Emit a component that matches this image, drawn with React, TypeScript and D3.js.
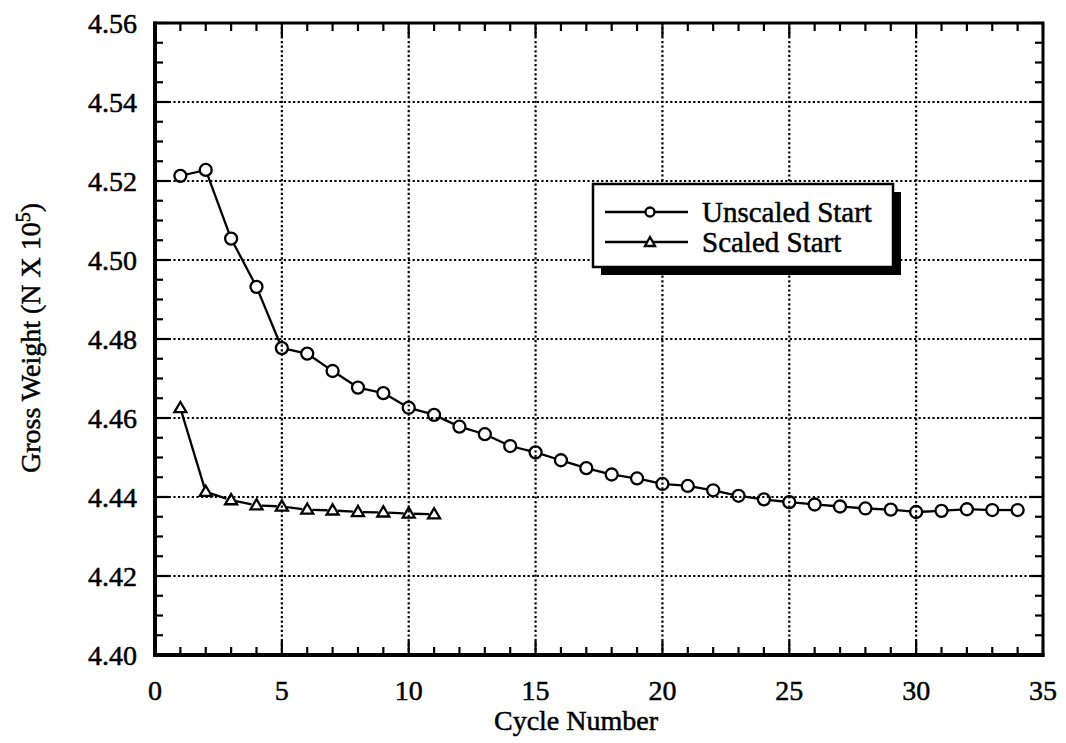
import { scaleLinear, range } from 'd3'

const width = 1066
const height = 743
const margin = { top: 23, right: 23, bottom: 88, left: 155 }

const cycles = range(1, 35)
const unscaled = [
  4.5213, 4.5228, 4.5054, 4.4932, 4.4777, 4.4763, 4.4719, 4.4677, 4.4663, 4.4626,
  4.4608, 4.4578, 4.4559, 4.4529, 4.4513, 4.4493, 4.4473, 4.4457, 4.4447, 4.4433,
  4.4428, 4.4417, 4.4403, 4.4394, 4.4387, 4.4381, 4.4376, 4.4371, 4.4368, 4.4362,
  4.4365, 4.4369, 4.4367, 4.4367,
]
const scaledCycles = range(1, 12)
const scaled = [
  4.4625, 4.4413, 4.4392, 4.4379, 4.4376, 4.4368, 4.4366, 4.4362, 4.4361, 4.4358, 4.4356,
]
const xTicks = [0, 5, 10, 15, 20, 25, 30, 35]
const yTicks = [4.4, 4.42, 4.44, 4.46, 4.48, 4.5, 4.52, 4.54, 4.56]
const seriesNames = ['Unscaled Start', 'Scaled Start']

const font = '"Liberation Serif", "Times New Roman", serif'

// connecting segments stop at the marker edge, markers are hollow
function gapSegments(pts, gap) {
  const segs = []
  for (let i = 1; i < pts.length; i++) {
    const [x1, y1] = pts[i - 1]
    const [x2, y2] = pts[i]
    const len = Math.hypot(x2 - x1, y2 - y1)
    if (len <= gap * 2) continue
    const ux = (x2 - x1) / len
    const uy = (y2 - y1) / len
    segs.push([x1 + ux * gap, y1 + uy * gap, x2 - ux * gap, y2 - uy * gap])
  }
  return segs
}

function Triangle({ x, y, s }) {
  const h = s * 0.85
  return (
    <path
      d={`M${x},${y - h * 0.6}L${x + s / 2},${y + h * 0.4}L${x - s / 2},${y + h * 0.4}Z`}
      fill="none"
      stroke="black"
      strokeWidth={2.3}
    />
  )
}

function App() {
  const innerWidth = width - margin.left - margin.right
  const innerHeight = height - margin.top - margin.bottom
  const x = scaleLinear().domain([0, 35]).range([margin.left, margin.left + innerWidth])
  const y = scaleLinear().domain([4.4, 4.56]).range([margin.top + innerHeight, margin.top])
  const x0 = margin.left
  const x1 = margin.left + innerWidth
  const y0 = margin.top + innerHeight
  const y1 = margin.top

  const uPts = cycles.map((c, i) => [x(c), y(unscaled[i])])
  const sPts = scaledCycles.map((c, i) => [x(c), y(scaled[i])])

  const minorX = range(0, 36)
  const minorY = range(0, 33).map((i) => 4.4 + i * 0.005)

  const lg = { x: 593, y: 184, w: 300, h: 83 }
  const txt = { stroke: 'black', strokeWidth: 0.5 }

  return (
    <svg
      width={width}
      height={height}
      style={{ position: 'absolute', left: 0, top: 0, background: 'white' }}
      fontFamily={font}
    >
      {/* grid */}
      {xTicks.slice(1, -1).map((t) => (
        <line key={'gx' + t} x1={x(t)} x2={x(t)} y1={y0} y2={y1} stroke="black" strokeWidth={2.2} strokeDasharray="2.2 2.4" />
      ))}
      {yTicks.slice(1, -1).map((t) => (
        <line key={'gy' + t} x1={x0} x2={x1} y1={y(t)} y2={y(t)} stroke="black" strokeWidth={2.2} strokeDasharray="2.2 2.4" />
      ))}

      {/* minor / major ticks on all four sides */}
      {minorX.map((t) => {
        const len = t % 5 === 0 ? 14 : 8
        return (
          <g key={'tx' + t}>
            <line x1={x(t)} x2={x(t)} y1={y0} y2={y0 - len} stroke="black" strokeWidth={2.2} />
            <line x1={x(t)} x2={x(t)} y1={y1} y2={y1 + len} stroke="black" strokeWidth={2.2} />
          </g>
        )
      })}
      {minorY.map((t, i) => {
        const len = i % 4 === 0 ? 14 : 8
        return (
          <g key={'ty' + i}>
            <line x1={x0} x2={x0 + len} y1={y(t)} y2={y(t)} stroke="black" strokeWidth={2.2} />
            <line x1={x1} x2={x1 - len} y1={y(t)} y2={y(t)} stroke="black" strokeWidth={2.2} />
          </g>
        )
      })}

      {/* frame */}
      <rect x={x0} y={y1} width={innerWidth} height={innerHeight} fill="none" stroke="black" strokeWidth={3} />
      <line x1={x0} x2={x0} y1={y1 - 1.5} y2={y0 + 2} stroke="black" strokeWidth={4} />
      <line x1={x0 - 2} x2={x1 + 1.5} y1={y0} y2={y0} stroke="black" strokeWidth={4} />

      {/* unscaled series */}
      {gapSegments(uPts, 6).map((s, i) => (
        <line key={'us' + i} x1={s[0]} y1={s[1]} x2={s[2]} y2={s[3]} stroke="black" strokeWidth={2.3} />
      ))}
      {uPts.map((p, i) => (
        <circle key={'uc' + i} cx={p[0]} cy={p[1]} r={6} fill="none" stroke="black" strokeWidth={2.3} />
      ))}

      {/* scaled series */}
      {gapSegments(sPts, 5).map((s, i) => (
        <line key={'ss' + i} x1={s[0]} y1={s[1]} x2={s[2]} y2={s[3]} stroke="black" strokeWidth={2.3} />
      ))}
      {sPts.map((p, i) => (
        <Triangle key={'st' + i} x={p[0]} y={p[1]} s={12} />
      ))}

      {/* tick labels */}
      {yTicks.map((t) => (
        <text key={'yl' + t} x={x0 - 18} y={y(t)} dy="0.35em" textAnchor="end" fontSize={28} {...txt}>
          {t.toFixed(2)}
        </text>
      ))}
      {xTicks.map((t) => (
        <text key={'xl' + t} x={x(t)} y={y0 + 35} dy="0.35em" textAnchor="middle" fontSize={28} {...txt}>
          {t}
        </text>
      ))}

      {/* axis titles */}
      <text x={576} y={y0 + 65} dy="0.35em" textAnchor="middle" fontSize={28} {...txt}>
        Cycle Number
      </text>
      <text transform={`translate(40,338) rotate(-90)`} textAnchor="middle" fontSize={28} {...txt}>
        Gross Weight (N X 10<tspan dy={-10} fontSize={20}>5</tspan>
        <tspan dy={10}>)</tspan>
      </text>

      {/* legend */}
      <rect x={lg.x + 8} y={lg.y + 8} width={lg.w} height={lg.h} fill="black" />
      <rect x={lg.x} y={lg.y} width={lg.w} height={lg.h} fill="white" stroke="black" strokeWidth={2.5} />
      {seriesNames.map((name, i) => {
        const ly = lg.y + 28 + i * 30
        return (
          <g key={name}>
            <line x1={lg.x + 12} x2={lg.x + 95} y1={ly} y2={ly} stroke="black" strokeWidth={2.3} />
            {i === 0 ? (
              <circle cx={lg.x + 57} cy={ly} r={4.5} fill="white" stroke="black" strokeWidth={2.3} />
            ) : (
              <path
                d={`M${lg.x + 57},${ly - 5}L${lg.x + 62},${ly + 4}L${lg.x + 52},${ly + 4}Z`}
                fill="white"
                stroke="black"
                strokeWidth={2.3}
              />
            )}
            <text x={lg.x + 109} y={ly} dy="0.35em" fontSize={29} {...txt}>
              {name}
            </text>
          </g>
        )
      })}
    </svg>
  )
}

export default App
